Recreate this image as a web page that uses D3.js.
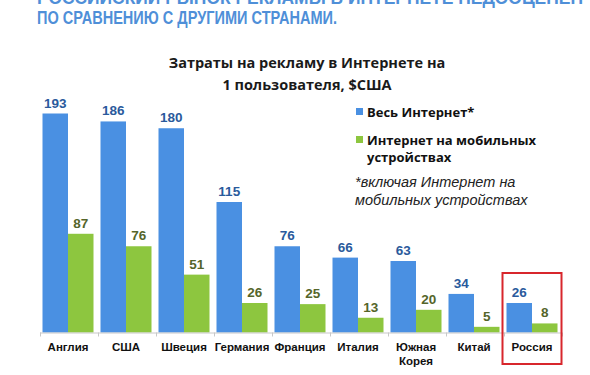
<!DOCTYPE html>
<html lang="ru">
<head>
    <meta charset="UTF-8">
    <title>d3</title>
    <script src="https://d3js.org/d3.v7.min.js"></script>
    <style>
        body { margin: 0; background: #fff; }
        svg { display: block; font-family: "Liberation Sans", Arial, sans-serif; }
    </style>
</head>
<body>
    <div class="canvas"></div>
    <script>
      const countries = ['Англия', 'США', 'Швеция', 'Германия', 'Франция', 'Италия', 'Южная Корея', 'Китай', 'Россия'];
      const allNet = [193, 186, 180, 115, 76, 66, 63, 34, 26];
      const mobileNet = [87, 76, 51, 26, 25, 13, 20, 5, 8];
      const seriesNames = ['Весь Интернет*', 'Интернет на мобильных устройствах'];
      const headerLines = ['РОССИЙСКИЙ РЫНОК РЕКЛАМЫ В ИНТЕРНЕТЕ НЕДООЦЕНЕН', 'ПО СРАВНЕНИЮ С ДРУГИМИ СТРАНАМИ.'];
      const titleLines = ['Затраты на рекламу в Интернете на', '1 пользователя, $США'];
      const noteLines = ['*включая Интернет на', 'мобильных устройствах'];

      const width = 590;
      const height = 375;
      const [ml, mr, baseY] = [40, 28, 332.5];
      const blue = '#4a90e2';
      const green = '#8dc63f';

      const svg = d3.select('.canvas')
                      .append('svg')
                      .attr('width', width)
                      .attr('height', height);

      // header (top line is cut off by the frame, as in the slide)
      svg.selectAll('text.header')
        .data(headerLines)
        .enter()
        .append('text')
        .attr('x', 37)
        .attr('y', (d, i) => 4 + i * 20)
        .attr('font-size', 17.5)
        .attr('font-weight', 'bold')
        .attr('fill', '#4f8fd8')
        .attr('textLength', (d, i) => i ? 300 : 546)
        .attr('lengthAdjust', 'spacingAndGlyphs')
        .text(d => d);

      svg.selectAll('text.title')
        .data(titleLines)
        .enter()
        .append('text')
        .attr('x', 307)
        .attr('y', (d, i) => 68 + i * 22)
        .attr('text-anchor', 'middle')
        .attr('font-family', '"Open Sans", sans-serif')
        .attr('font-size', 14.5)
        .attr('font-weight', 'bold')
        .attr('fill', '#1a1a1a')
        .text(d => d);

      const x = d3.scaleBand()
                    .domain(countries)
                    .range([ml, width - mr]);

      const inner = d3.scaleBand()
                    .domain([0, 1])
                    .range([2.5, x.bandwidth() - 4.5]);

      const y = d3.scaleLinear()
                    .domain([0, 193])
                    .range([baseY, 113.5]);

      const series = [
        { vals: allNet, color: blue, label: '#2a5a9c' },
        { vals: mobileNet, color: green, label: '#55652a' }
      ];

      series.forEach((s, si) => {
        const g = svg.append('g');
        g.selectAll('rect')
          .data(s.vals)
          .enter()
          .append('rect')
          .attr('x', (d, i) => x(countries[i]) + inner(si))
          .attr('y', d => y(d))
          .attr('width', inner.bandwidth())
          .attr('height', d => baseY - y(d))
          .attr('fill', s.color);

        g.selectAll('text')
          .data(s.vals)
          .enter()
          .append('text')
          .attr('x', (d, i) => x(countries[i]) + inner(si) + inner.bandwidth() / 2)
          .attr('y', d => y(d) - 6)
          .attr('text-anchor', 'middle')
          .attr('font-size', 13.5)
          .attr('font-weight', 'bold')
          .attr('fill', s.label)
          .text(d => d);
      });

      // axis
      const xAxis = d3.axisBottom(x).tickSize(0).tickFormat('');
      const axisG = svg.append('g')
                        .attr('transform', `translate(0, ${baseY})`)
                        .call(xAxis);
      axisG.select('.domain').attr('stroke', '#c8c8c8').attr('d', `M${ml},0.5H${width - mr}`);
      axisG.selectAll('line.sep')
        .data(countries.concat(['end']))
        .enter()
        .append('line')
        .attr('class', 'sep')
        .attr('x1', (d, i) => ml + i * x.bandwidth() + 0.5)
        .attr('x2', (d, i) => ml + i * x.bandwidth() + 0.5)
        .attr('y1', 0)
        .attr('y2', 4)
        .attr('stroke', '#c8c8c8');

      const catG = svg.append('g');
      countries.forEach(c => {
        const words = c === 'Южная Корея' ? c.split(' ') : [c];
        catG.append('text')
          .attr('x', x(c) + x.bandwidth() / 2 - 1)
          .attr('y', 351)
          .attr('text-anchor', 'middle')
          .attr('font-size', 11.5)
          .attr('font-weight', 'bold')
          .attr('fill', '#111')
          .selectAll('tspan')
          .data(words)
          .enter()
          .append('tspan')
          .attr('x', x(c) + x.bandwidth() / 2 - 1)
          .attr('dy', (d, i) => i ? 14 : 0)
          .text(d => d);
      });

      // highlight box around Russia
      svg.append('rect')
        .attr('x', x('Россия') - 1.5)
        .attr('y', 273)
        .attr('width', x.bandwidth() + 1)
        .attr('height', 91)
        .attr('fill', 'none')
        .attr('stroke', '#d8262c')
        .attr('stroke-width', 2);

      // legend
      const legend = svg.append('g')
                          .attr('font-family', '"Open Sans", sans-serif')
                          .attr('font-weight', 'bold')
                          .attr('font-size', 13)
                          .attr('fill', '#111');
      const legendRows = [[seriesNames[0]], ['Интернет на мобильных', 'устройствах']];
      [blue, green].forEach((c, i) => {
        const ly = i ? 140 : 112;
        legend.append('rect')
          .attr('x', 356)
          .attr('y', ly - 4)
          .attr('width', 7)
          .attr('height', 7)
          .attr('fill', c);
        legendRows[i].forEach((t, j) => {
          legend.append('text')
            .attr('x', 367)
            .attr('y', ly + 5 + j * 17)
            .text(t);
        });
      });

      svg.selectAll('text.note')
        .data(noteLines)
        .enter()
        .append('text')
        .attr('x', 355)
        .attr('y', (d, i) => 187 + i * 18)
        .attr('font-size', 14.5)
        .attr('font-style', 'italic')
        .attr('fill', '#222')
        .text(d => d);
    </script>
</body>
</html>
